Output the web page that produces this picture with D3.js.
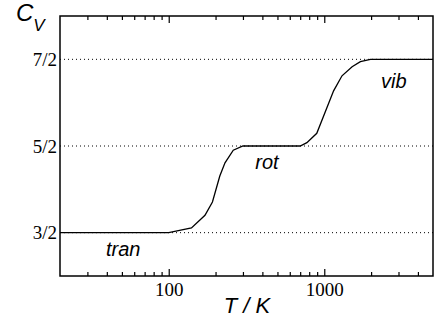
<!DOCTYPE html>
<html>
<head>
<meta charset="utf-8">
<script src="https://cdn.jsdelivr.net/npm/d3@7"></script>
<style>
  body { margin: 0; background: #fff; }
  .lbl { font-family: "Liberation Sans", Arial, sans-serif; font-style: italic; fill: #000; }
</style>
</head>
<body>
<div id="chart"></div>
<script>
// Data
var temps = [20, 100, 140, 171, 191, 213, 230, 260, 300, 700, 773, 895, 1148, 1300, 1510, 1707, 1980, 5000];
var cv    = [1.5, 1.5, 1.555, 1.70, 1.854, 2.153, 2.306, 2.452, 2.5, 2.5, 2.538, 2.646, 3.136, 3.31, 3.414, 3.474, 3.5, 3.5];
var yTicks = [1.5, 2.5, 3.5];
var yTickLabels = ["3/2", "5/2", "7/2"];
var xMajor = [100, 1000];
var xMinor = [30, 40, 50, 60, 70, 80, 90, 200, 300, 400, 500, 600, 700, 800, 900, 2000, 3000, 4000];
var regions = [
  {name: "tran", t: 39.5, v: 1.23},
  {name: "rot", t: 360, v: 2.23},
  {name: "vib", t: 2316, v: 3.165}
];

(function() {
  var w = 438, h = 321;
  var padL = 60, padR = 433, padT = 16, padB = 276;

  var x = d3.scaleLog().domain([20, 5000]).range([padL, padR]);
  var y = d3.scaleLinear().domain([1, 4]).range([padB, padT]);

  var svg = d3.select("#chart").append("svg")
    .attr("width", w).attr("height", h);

  // Dotted guide lines
  svg.append("g").selectAll("line")
    .data(yTicks).enter().append("line")
    .attr("x1", padL).attr("x2", padR)
    .attr("y1", function(d) { return y(d); })
    .attr("y2", function(d) { return y(d); })
    .attr("stroke", "#000").attr("stroke-width", 1)
    .attr("stroke-dasharray", "1,3");

  // Y labels
  svg.append("g").selectAll("text")
    .data(yTicks).enter().append("text")
    .attr("x", padL - 3)
    .attr("y", function(d) { return y(d) + 6.5; })
    .attr("text-anchor", "end")
    .style("font-family", "Liberation Serif, serif")
    .style("font-size", "19px")
    .text(function(d, i) { return yTickLabels[i]; });

  // Bottom axis: inward ticks, labels on majors
  var gb = svg.append("g").attr("transform", "translate(0," + padB + ")");
  gb.append("g").call(d3.axisBottom(x).tickValues(xMinor).tickSize(-4).tickFormat(""));
  gb.append("g").call(d3.axisBottom(x).tickValues(xMajor).tickSize(-7).tickPadding(7)
    .tickFormat(function(d) { return d; }));

  // Top axis
  var gt = svg.append("g").attr("transform", "translate(0," + padT + ")");
  gt.append("g").call(d3.axisTop(x).tickValues(xMinor).tickSize(-4).tickFormat(""));
  gt.append("g").call(d3.axisTop(x).tickValues(xMajor).tickSize(-7).tickFormat(""));

  svg.selectAll(".domain").remove();
  svg.selectAll(".tick line").attr("stroke", "#000").attr("stroke-width", 1.2);
  svg.selectAll(".tick text")
    .attr("fill", "#000")
    .style("font-family", "Liberation Serif, serif")
    .style("font-size", "19px");

  // Curve
  var line = d3.line()
    .x(function(d, i) { return x(temps[i]); })
    .y(function(d) { return y(d); });
  svg.append("path")
    .datum(cv)
    .attr("d", line)
    .attr("fill", "none")
    .attr("stroke", "#000")
    .attr("stroke-width", 1.3);

  // Frame
  svg.append("rect")
    .attr("x", padL).attr("y", padT)
    .attr("width", padR - padL).attr("height", padB - padT)
    .attr("fill", "none").attr("stroke", "#000").attr("stroke-width", 1.5);

  // Region labels
  svg.append("g").selectAll("text")
    .data(regions).enter().append("text")
    .attr("class", "lbl")
    .attr("x", function(d) { return x(d.t); })
    .attr("y", function(d) { return y(d.v); })
    .style("font-size", "20px")
    .text(function(d) { return d.name; });

  // Axis titles
  var cl = svg.append("text").attr("class", "lbl").attr("x", 16).attr("y", 21)
    .style("font-size", "24px");
  cl.append("tspan").text("C");
  cl.append("tspan").attr("dy", 10).style("font-size", "17px").text("V");

  svg.append("text").attr("class", "lbl")
    .attr("x", 247).attr("y", 313)
    .attr("text-anchor", "middle")
    .style("font-size", "22px")
    .text("T / K");
})();
</script>
</body>
</html>
